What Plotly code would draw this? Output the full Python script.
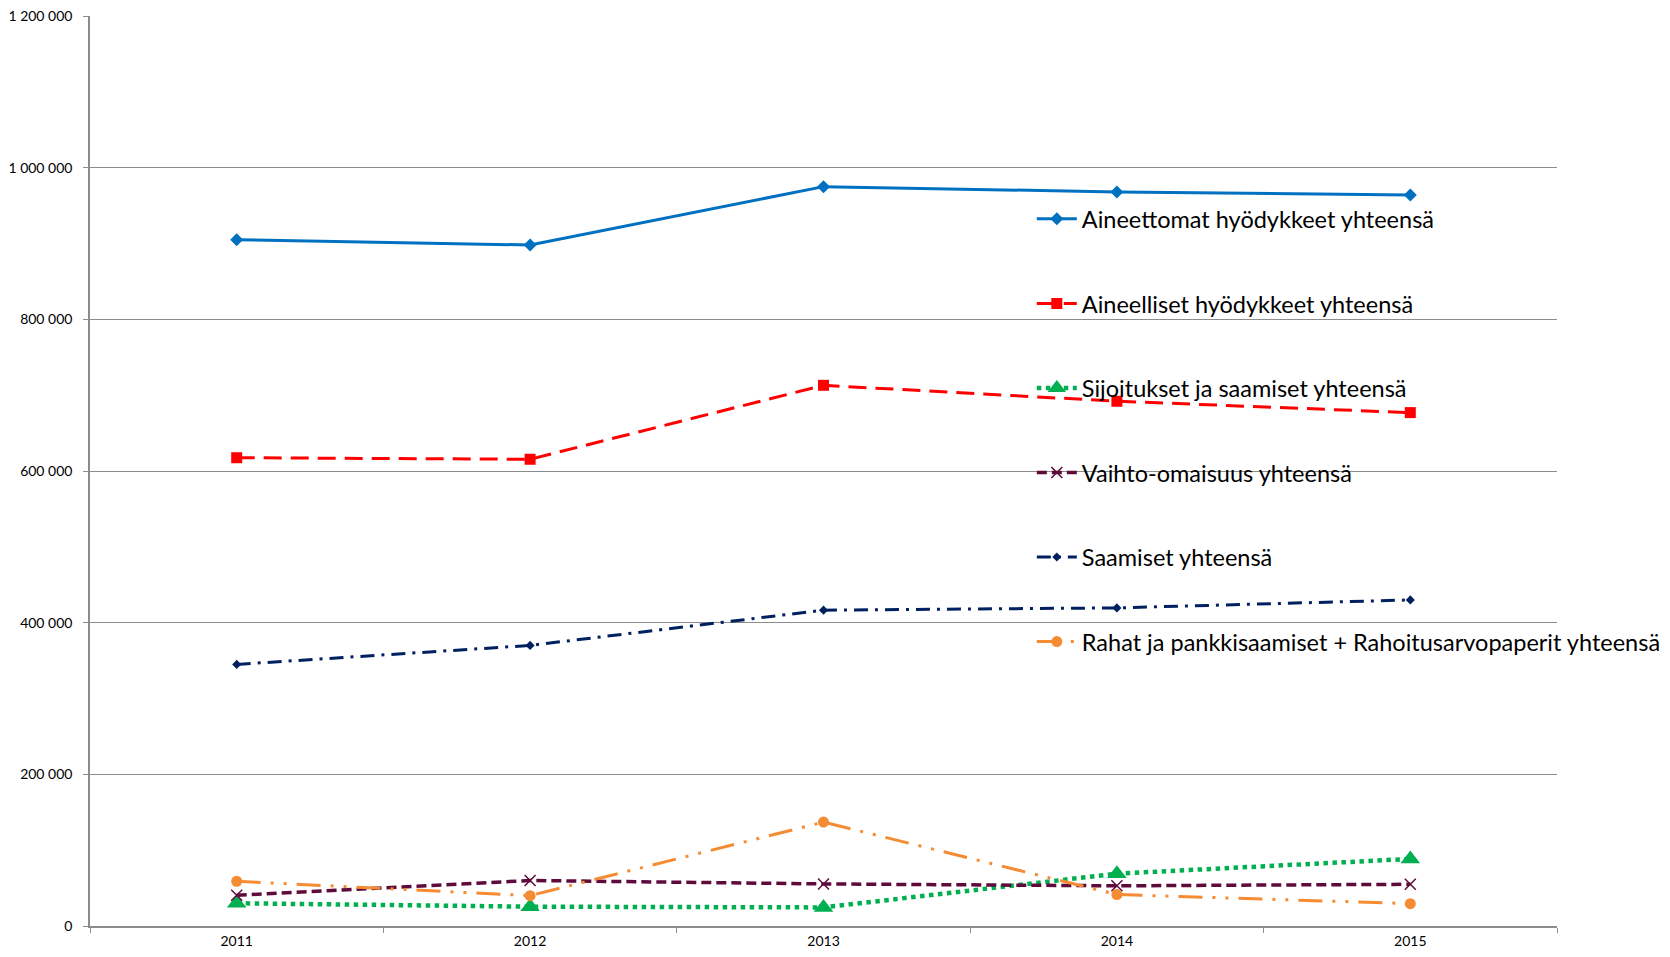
import plotly.graph_objects as go

years = ["2011", "2012", "2013", "2014", "2015"]

names = [
    "Aineettomat hyödykkeet yhteensä",
    "Aineelliset hyödykkeet yhteensä",
    "Sijoitukset ja saamiset yhteensä",
    "Vaihto-omaisuus yhteensä",
    "Saamiset yhteensä",
    "Rahat ja pankkisaamiset + Rahoitusarvopaperit yhteensä",
]

aineettomat = [905000, 898000, 975000, 968000, 964000]
aineelliset = [617500, 615500, 713000, 692000, 677000]
sijoitukset = [30000, 25500, 24500, 69000, 88500]
vaihto = [40500, 60000, 55500, 53000, 55000]
saamiset = [345000, 370000, 416500, 419500, 430000]
rahat = [59000, 40000, 137000, 41500, 29500]

y_tickvals = [0, 200000, 400000, 600000, 800000, 1000000, 1200000]
y_ticktext = ["0", "200 000", "400 000", "600 000", "800 000", "1 000 000", "1 200 000"]

styles = [
    dict(color="#0070C0", dash="solid", width=3, symbol="diamond", size=10, mline=0),
    dict(color="#FF0000", dash="18px,9px", width=3, symbol="square", size=11, mline=0),
    dict(color="#00B050", dash="dot", width=4.5, symbol="triangle-up", size=17, mline=0),
    dict(color="#5E0B3B", dash="10px,5px", width=3.5, symbol="x-thin", size=11, mline=1.5),
    dict(color="#002060", dash="14px,7px,3px,7px", width=3, symbol="diamond", size=7, mline=0),
    dict(color="#F58B32", dash="24px,10px,3px,10px,3px,10px", width=3, symbol="circle", size=11, mline=0),
]

series = [aineettomat, aineelliset, sijoitukset, vaihto, saamiset, rahat]

fig = go.Figure()
for i, (nm, vals, st) in enumerate(zip(names, series, styles)):
    marker = dict(symbol=st["symbol"], size=st["size"], color=st["color"])
    if st["symbol"] == "x-thin":
        marker["line"] = dict(color=st["color"], width=st["mline"])
    else:
        marker["line"] = dict(width=0)
    fig.add_trace(go.Scatter(
        x=years, y=vals, name=nm, mode="lines+markers",
        line=dict(color=st["color"], dash=st["dash"], width=st["width"]),
        marker=marker, legendgroup=f"g{i}",
    ))

fig.update_layout(
    width=1654, height=941,
    paper_bgcolor="white", plot_bgcolor="white",
    margin=dict(l=82, r=105, t=8, b=23, autoexpand=False),
    font=dict(family="Lato, Carlito, Calibri, sans-serif", color="#000000"),
    showlegend=True,
    legend=dict(
        x=0.642, y=0.801, xanchor="left", yanchor="top",
        bgcolor="rgba(0,0,0,0)", font=dict(size=23.5, color="#000000"),
        tracegroupgap=51, itemwidth=40,
    ),
)

fig.update_xaxes(
    type="category", range=[-0.5, 4.5],
    showline=True, linecolor="#8C8C8C", linewidth=1.5,
    ticks="outside", tickson="boundaries", ticklen=5, tickcolor="#8C8C8C",
    showgrid=False, tickfont=dict(size=14), zeroline=False,
    automargin=False, ticklabeloverflow="allow", ticklabelstandoff=1,
)
fig.update_yaxes(
    range=[0, 1200000], tickvals=y_tickvals, ticktext=y_ticktext,
    showline=True, linecolor="#8C8C8C", linewidth=1.5,
    ticks="outside", ticklen=5, tickcolor="#8C8C8C",
    showgrid=True, gridcolor="#8C8C8C", gridwidth=1,
    tickfont=dict(size=14), zeroline=False, ticklabelstandoff=8,
    automargin=False, ticklabeloverflow="allow",
)

fig.write_html("out.html")
